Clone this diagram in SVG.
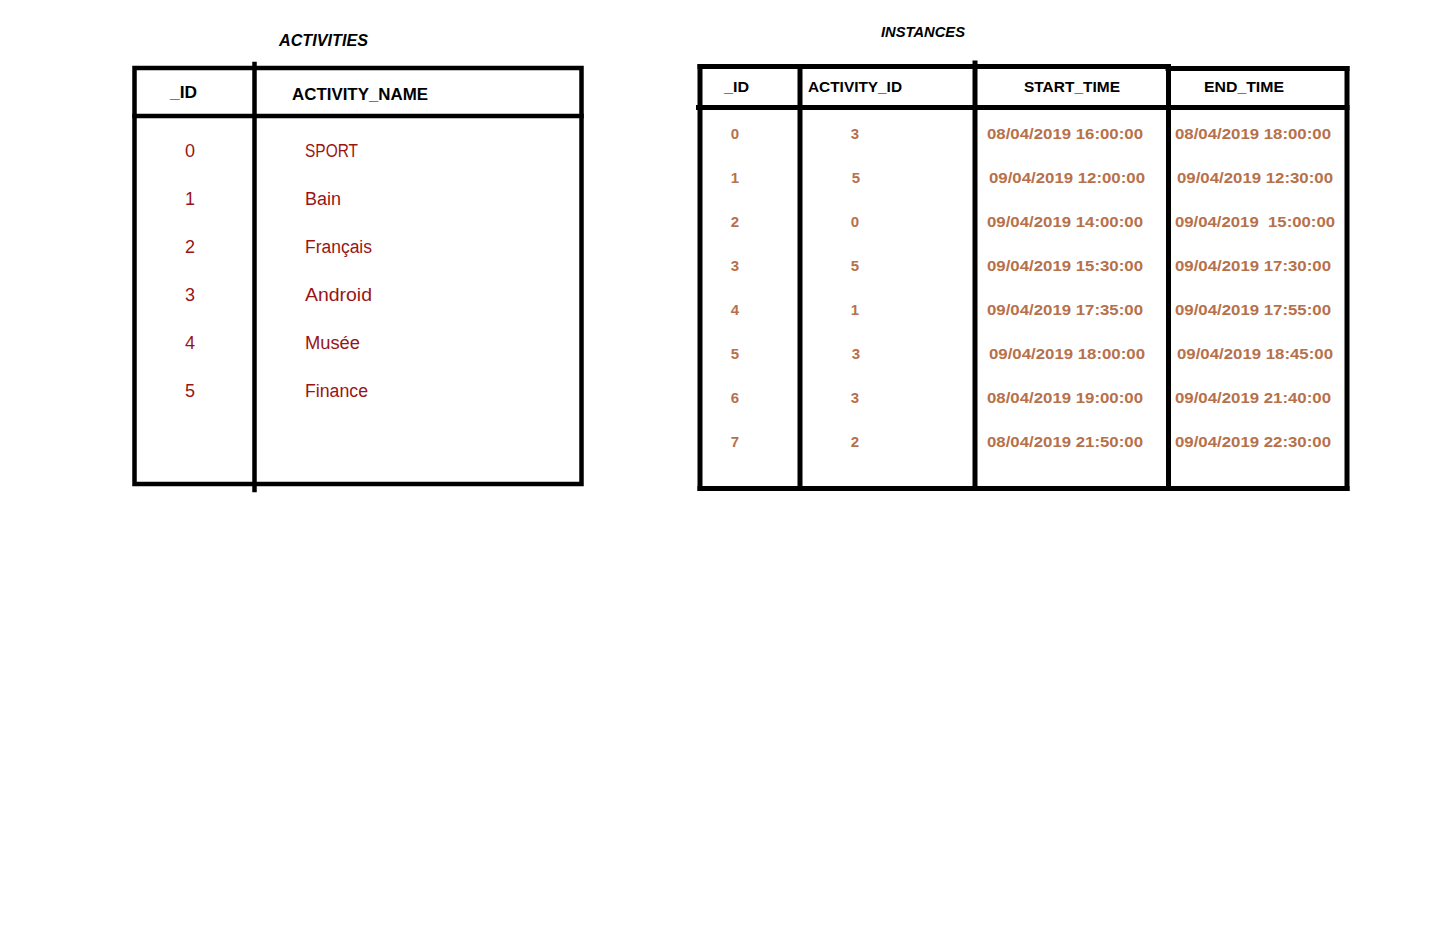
<svg xmlns="http://www.w3.org/2000/svg" width="1435" height="950" viewBox="0 0 1435 950">
<style>
  .bg { fill: #ffffff; }
  .ln { stroke: #000000; stroke-width: 5; fill: none; stroke-linecap: square; }
  .lnb { stroke: #000000; stroke-width: 5; fill: none; stroke-linecap: butt; }
  .lnl { stroke: #000000; stroke-width: 4.5; fill: none; stroke-linecap: square; }
  .title { font-family: "Liberation Sans", Arial, sans-serif; font-weight: bold; font-style: italic; fill: #000000; }
  .hdr { font-family: "Liberation Sans", Arial, sans-serif; font-weight: bold; fill: #000000; }
  .ldat { font-family: "Liberation Sans", Arial, sans-serif; font-size: 18px; fill: #9a1414; }
  .rdat { font-family: "Liberation Sans", Arial, sans-serif; font-weight: bold; font-size: 15px; fill: #b7714a; }
</style>
<rect class="bg" x="0" y="0" width="1435" height="950"/>

<g id="activities">
  <text class="title" x="279" y="46" font-size="16" textLength="89" lengthAdjust="spacingAndGlyphs">ACTIVITIES</text>
  <rect class="lnl" x="134.5" y="68" width="447" height="416"/>
  <line class="lnl" x1="134.5" y1="116" x2="581.5" y2="116"/>
  <line class="lnl" x1="254.5" y1="64" x2="254.5" y2="490"/>
  <text class="hdr" x="170" y="98" font-size="17" textLength="27" lengthAdjust="spacingAndGlyphs">_ID</text>
  <text class="hdr" x="292" y="100" font-size="17" textLength="136" lengthAdjust="spacingAndGlyphs">ACTIVITY_NAME</text>
  <g text-anchor="middle">
    <text class="ldat" x="190" y="156.5">0</text>
    <text class="ldat" x="190" y="204.5">1</text>
    <text class="ldat" x="190" y="252.5">2</text>
    <text class="ldat" x="190" y="300.5">3</text>
    <text class="ldat" x="190" y="348.5">4</text>
    <text class="ldat" x="190" y="396.5">5</text>
  </g>
  <text class="ldat" x="305" y="156.5" textLength="53" lengthAdjust="spacingAndGlyphs">SPORT</text>
  <text class="ldat" x="305" y="204.5" textLength="36" lengthAdjust="spacingAndGlyphs">Bain</text>
  <text class="ldat" x="305" y="252.5" textLength="67" lengthAdjust="spacingAndGlyphs">Français</text>
  <text class="ldat" x="305" y="300.5" textLength="67" lengthAdjust="spacingAndGlyphs">Android</text>
  <text class="ldat" x="305" y="348.5" textLength="55" lengthAdjust="spacingAndGlyphs">Musée</text>
  <text class="ldat" x="305" y="396.5" textLength="63" lengthAdjust="spacingAndGlyphs">Finance</text>
</g>

<g id="instances">
  <text class="title" x="881" y="37" font-size="14.5" textLength="84" lengthAdjust="spacingAndGlyphs">INSTANCES</text>
  <line class="ln" x1="700" y1="66.5" x2="1168" y2="66.5"/>
  <line class="ln" x1="1168" y1="68.5" x2="1347" y2="68.5"/>
  <line class="lnb" x1="696" y1="107.5" x2="1349.5" y2="107.5"/>
  <line class="ln" x1="700" y1="66.5" x2="700" y2="488.5"/>
  <line class="ln" x1="800" y1="66.5" x2="800" y2="488.5"/>
  <line class="ln" x1="975" y1="63" x2="975" y2="488.5"/>
  <line class="ln" x1="1168.5" y1="66.5" x2="1168.5" y2="488.5"/>
  <line class="ln" x1="1347" y1="68.5" x2="1347" y2="488.5"/>
  <line class="ln" x1="700" y1="488.5" x2="1347" y2="488.5"/>
  <text class="hdr" x="724" y="92" font-size="15" textLength="25" lengthAdjust="spacingAndGlyphs">_ID</text>
  <text class="hdr" x="808" y="92" font-size="15" textLength="94" lengthAdjust="spacingAndGlyphs">ACTIVITY_ID</text>
  <text class="hdr" x="1024" y="92" font-size="15" textLength="96" lengthAdjust="spacingAndGlyphs">START_TIME</text>
  <text class="hdr" x="1204" y="92" font-size="15" textLength="80" lengthAdjust="spacingAndGlyphs">END_TIME</text>
  <g text-anchor="middle">
    <text class="rdat" x="735" y="138.5">0</text>
    <text class="rdat" x="735" y="182.5">1</text>
    <text class="rdat" x="735" y="226.5">2</text>
    <text class="rdat" x="735" y="270.5">3</text>
    <text class="rdat" x="735" y="314.5">4</text>
    <text class="rdat" x="735" y="358.5">5</text>
    <text class="rdat" x="735" y="402.5">6</text>
    <text class="rdat" x="735" y="446.5">7</text>
    <text class="rdat" x="855" y="138.5">3</text>
    <text class="rdat" x="856" y="182.5">5</text>
    <text class="rdat" x="855" y="226.5">0</text>
    <text class="rdat" x="855" y="270.5">5</text>
    <text class="rdat" x="855" y="314.5">1</text>
    <text class="rdat" x="856" y="358.5">3</text>
    <text class="rdat" x="855" y="402.5">3</text>
    <text class="rdat" x="855" y="446.5">2</text>
  </g>
  <text class="rdat" x="987" y="138.5" textLength="156" lengthAdjust="spacingAndGlyphs">08/04/2019 16:00:00</text>
  <text class="rdat" x="989" y="182.5" textLength="156" lengthAdjust="spacingAndGlyphs">09/04/2019 12:00:00</text>
  <text class="rdat" x="987" y="226.5" textLength="156" lengthAdjust="spacingAndGlyphs">09/04/2019 14:00:00</text>
  <text class="rdat" x="987" y="270.5" textLength="156" lengthAdjust="spacingAndGlyphs">09/04/2019 15:30:00</text>
  <text class="rdat" x="987" y="314.5" textLength="156" lengthAdjust="spacingAndGlyphs">09/04/2019 17:35:00</text>
  <text class="rdat" x="989" y="358.5" textLength="156" lengthAdjust="spacingAndGlyphs">09/04/2019 18:00:00</text>
  <text class="rdat" x="987" y="402.5" textLength="156" lengthAdjust="spacingAndGlyphs">08/04/2019 19:00:00</text>
  <text class="rdat" x="987" y="446.5" textLength="156" lengthAdjust="spacingAndGlyphs">08/04/2019 21:50:00</text>
  <text class="rdat" x="1175" y="138.5" textLength="156" lengthAdjust="spacingAndGlyphs">08/04/2019 18:00:00</text>
  <text class="rdat" x="1177" y="182.5" textLength="156" lengthAdjust="spacingAndGlyphs">09/04/2019 12:30:00</text>
  <text class="rdat" x="1175" y="226.5" textLength="160" lengthAdjust="spacingAndGlyphs" xml:space="preserve">09/04/2019  15:00:00</text>
  <text class="rdat" x="1175" y="270.5" textLength="156" lengthAdjust="spacingAndGlyphs">09/04/2019 17:30:00</text>
  <text class="rdat" x="1175" y="314.5" textLength="156" lengthAdjust="spacingAndGlyphs">09/04/2019 17:55:00</text>
  <text class="rdat" x="1177" y="358.5" textLength="156" lengthAdjust="spacingAndGlyphs">09/04/2019 18:45:00</text>
  <text class="rdat" x="1175" y="402.5" textLength="156" lengthAdjust="spacingAndGlyphs">09/04/2019 21:40:00</text>
  <text class="rdat" x="1175" y="446.5" textLength="156" lengthAdjust="spacingAndGlyphs">09/04/2019 22:30:00</text>
</g>

<g id="connectors"/>
</svg>
